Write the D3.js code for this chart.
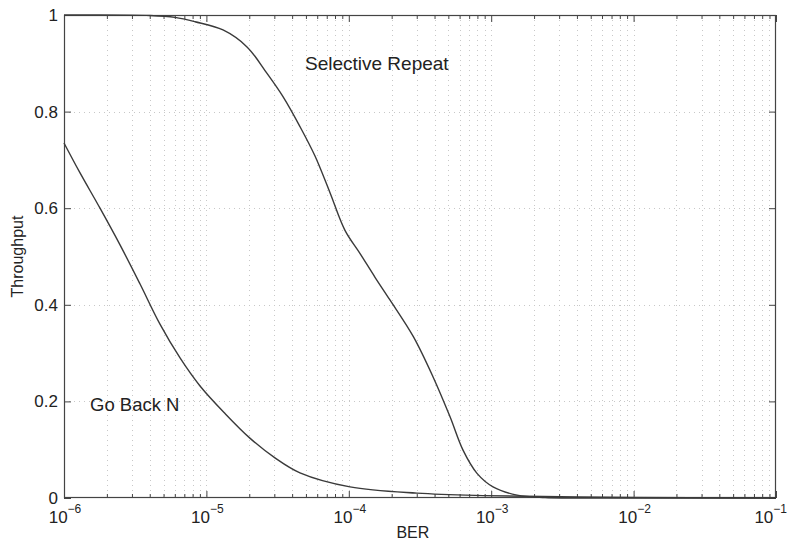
<!DOCTYPE html>
<html>
<head>
<meta charset="utf-8">
<script src="https://cdn.jsdelivr.net/npm/d3@7"></script>
<style>
  html, body { margin: 0; padding: 0; background: #fff; }
  svg { display: block; }
  text { font-family: "Liberation Sans", Arial, Helvetica, sans-serif; fill: #222; }
</style>
</head>
<body>
<svg id="chart" width="788" height="542"></svg>
<script>
// ---- data ----
const gbnBER = [1e-6, 1.296e-6, 1.79e-6, 2.474e-6, 3.42e-6, 4.72e-6, 6.53e-6, 9.02e-6, 1.351e-5, 2.02e-5, 3.03e-5, 4.54e-5, 1.02e-4, 3.01e-4, 8.75e-4, 1e-2, 1e-1];
const gbnThroughput = [0.735, 0.673, 0.600, 0.524, 0.443, 0.360, 0.290, 0.232, 0.175, 0.124, 0.083, 0.052, 0.023, 0.010, 0.005, 0.001, 0];

const srBER = [1e-6, 4.02e-6, 6.02e-6, 8.32e-6, 1.308e-5, 1.928e-5, 2.665e-5, 3.45e-5, 4.54e-5, 5.79e-5, 7.38e-5, 9.4e-5, 1.2e-4, 1.528e-4, 1.945e-4, 2.84e-4, 3.9e-4, 5.14e-4, 6.34e-4, 7.95e-4, 1.03e-3, 1.52e-3, 2.39e-3, 1e-2, 1e-1];
const srThroughput = [1.0, 0.999, 0.995, 0.986, 0.969, 0.934, 0.879, 0.831, 0.769, 0.708, 0.632, 0.554, 0.506, 0.457, 0.41, 0.334, 0.251, 0.168, 0.099, 0.051, 0.023, 0.006, 0.001, 0, 0];

const xDomain = [1e-6, 1e-1];
const xMajorExponents = [-6, -5, -4, -3, -2, -1];
const yTicks = [0, 0.2, 0.4, 0.6, 0.8, 1];
const yTickLabels = ["0", "0.2", "0.4", "0.6", "0.8", "1"];
const seriesLabels = ["Selective Repeat", "Go Back N"];
const xTitle = "BER";
const yTitle = "Throughput";

// ---- layout ----
const svg = d3.select("#chart");
const L = 64, R = 776, T = 15, B = 498;
const x = d3.scaleLog().domain(xDomain).range([L, R]);
const y = d3.scaleLinear().domain([0, 1]).range([B, T]);

const majorTicks = xMajorExponents.map(e => Math.pow(10, e));
const minorTicks = [];
for (let i = 0; i < majorTicks.length - 1; i++) {
  for (let k = 2; k <= 9; k++) minorTicks.push(majorTicks[i] * k);
}
const allX = majorTicks.concat(minorTicks);

// grid
const grid = svg.append("g").attr("stroke", "#c8c8c8").attr("stroke-width", 1).attr("stroke-dasharray", "1,4");
grid.selectAll("line.vx").data(allX.filter(v => v > xDomain[0] && v < xDomain[1])).join("line")
  .attr("x1", d => Math.round(x(d)) + 0.5).attr("x2", d => Math.round(x(d)) + 0.5)
  .attr("y1", T).attr("y2", B);
grid.selectAll("line.hy").data(yTicks.filter(v => v > 0 && v < 1)).join("line")
  .attr("x1", L).attr("x2", R)
  .attr("y1", d => Math.round(y(d)) + 0.5).attr("y2", d => Math.round(y(d)) + 0.5);

// axes (ticks inward on all four sides)
const axisColor = "#444";
function styleAxis(g) {
  g.select(".domain").remove();
  g.selectAll(".tick line").attr("stroke", axisColor).attr("stroke-width", 1);
  g.selectAll(".tick text").remove();
}
svg.append("g").attr("transform", `translate(0,${B})`)
  .call(d3.axisBottom(x).tickValues(majorTicks).tickSize(-7).tickFormat(() => "")).call(styleAxis);
svg.append("g").attr("transform", `translate(0,${B})`)
  .call(d3.axisBottom(x).tickValues(minorTicks).tickSize(-4).tickFormat(() => "")).call(styleAxis);
svg.append("g").attr("transform", `translate(0,${T})`)
  .call(d3.axisTop(x).tickValues(majorTicks).tickSize(-7).tickFormat(() => "")).call(styleAxis);
svg.append("g").attr("transform", `translate(0,${T})`)
  .call(d3.axisTop(x).tickValues(minorTicks).tickSize(-4).tickFormat(() => "")).call(styleAxis);
svg.append("g").attr("transform", `translate(${L},0)`)
  .call(d3.axisLeft(y).tickValues(yTicks).tickSize(-7).tickFormat(() => "")).call(styleAxis);
svg.append("g").attr("transform", `translate(${R},0)`)
  .call(d3.axisRight(y).tickValues(yTicks).tickSize(-7).tickFormat(() => "")).call(styleAxis);

// frame
svg.append("rect").attr("x", L + 0.5).attr("y", T + 0.5).attr("width", R - L - 1).attr("height", B - T - 1)
  .attr("fill", "none").attr("stroke", axisColor).attr("stroke-width", 1.2);

// tick labels
svg.append("g").selectAll("text").data(yTicks).join("text")
  .attr("x", L - 6).attr("y", d => y(d)).attr("dy", "0.35em")
  .attr("text-anchor", "end").attr("font-size", 17)
  .text((d, i) => yTickLabels[i]);

const lastExp = xMajorExponents[xMajorExponents.length - 1];
const xl = svg.append("g").selectAll("text").data(xMajorExponents).join("text")
  .attr("x", d => d === lastExp ? 787 : x(Math.pow(10, d)) + 1).attr("y", 523)
  .attr("text-anchor", d => d === lastExp ? "end" : "middle").attr("font-size", 17);
xl.append("tspan").text("10");
xl.append("tspan").attr("dy", -10).attr("font-size", 12).text(d => "\u2212" + Math.abs(d));

// axis titles
svg.append("text").attr("x", x(Math.pow(10, -3.55))).attr("y", 538).attr("text-anchor", "middle")
  .attr("font-size", 16).text(xTitle);
svg.append("text").attr("transform", `translate(23,${(T + B) / 2}) rotate(-90)`)
  .attr("text-anchor", "middle").attr("font-size", 16).text(yTitle);

// curves
const line = d3.line().x(d => x(d[0])).y(d => y(d[1])).curve(d3.curveCatmullRom.alpha(0.5));
const srData = srBER.map((b, i) => [b, srThroughput[i]]);
const gbnData = gbnBER.map((b, i) => [b, gbnThroughput[i]]);
svg.append("path").datum(srData).attr("d", line)
  .attr("fill", "none").attr("stroke", "#3a3a3a").attr("stroke-width", 1.4);
svg.append("path").datum(gbnData).attr("d", line)
  .attr("fill", "none").attr("stroke", "#3a3a3a").attr("stroke-width", 1.4);

// series annotations
svg.append("text").attr("x", 305).attr("y", 70).attr("font-size", 19).text(seriesLabels[0]);
svg.append("text").attr("x", 90).attr("y", 411).attr("font-size", 18.5).text(seriesLabels[1]);
</script>
</body>
</html>
